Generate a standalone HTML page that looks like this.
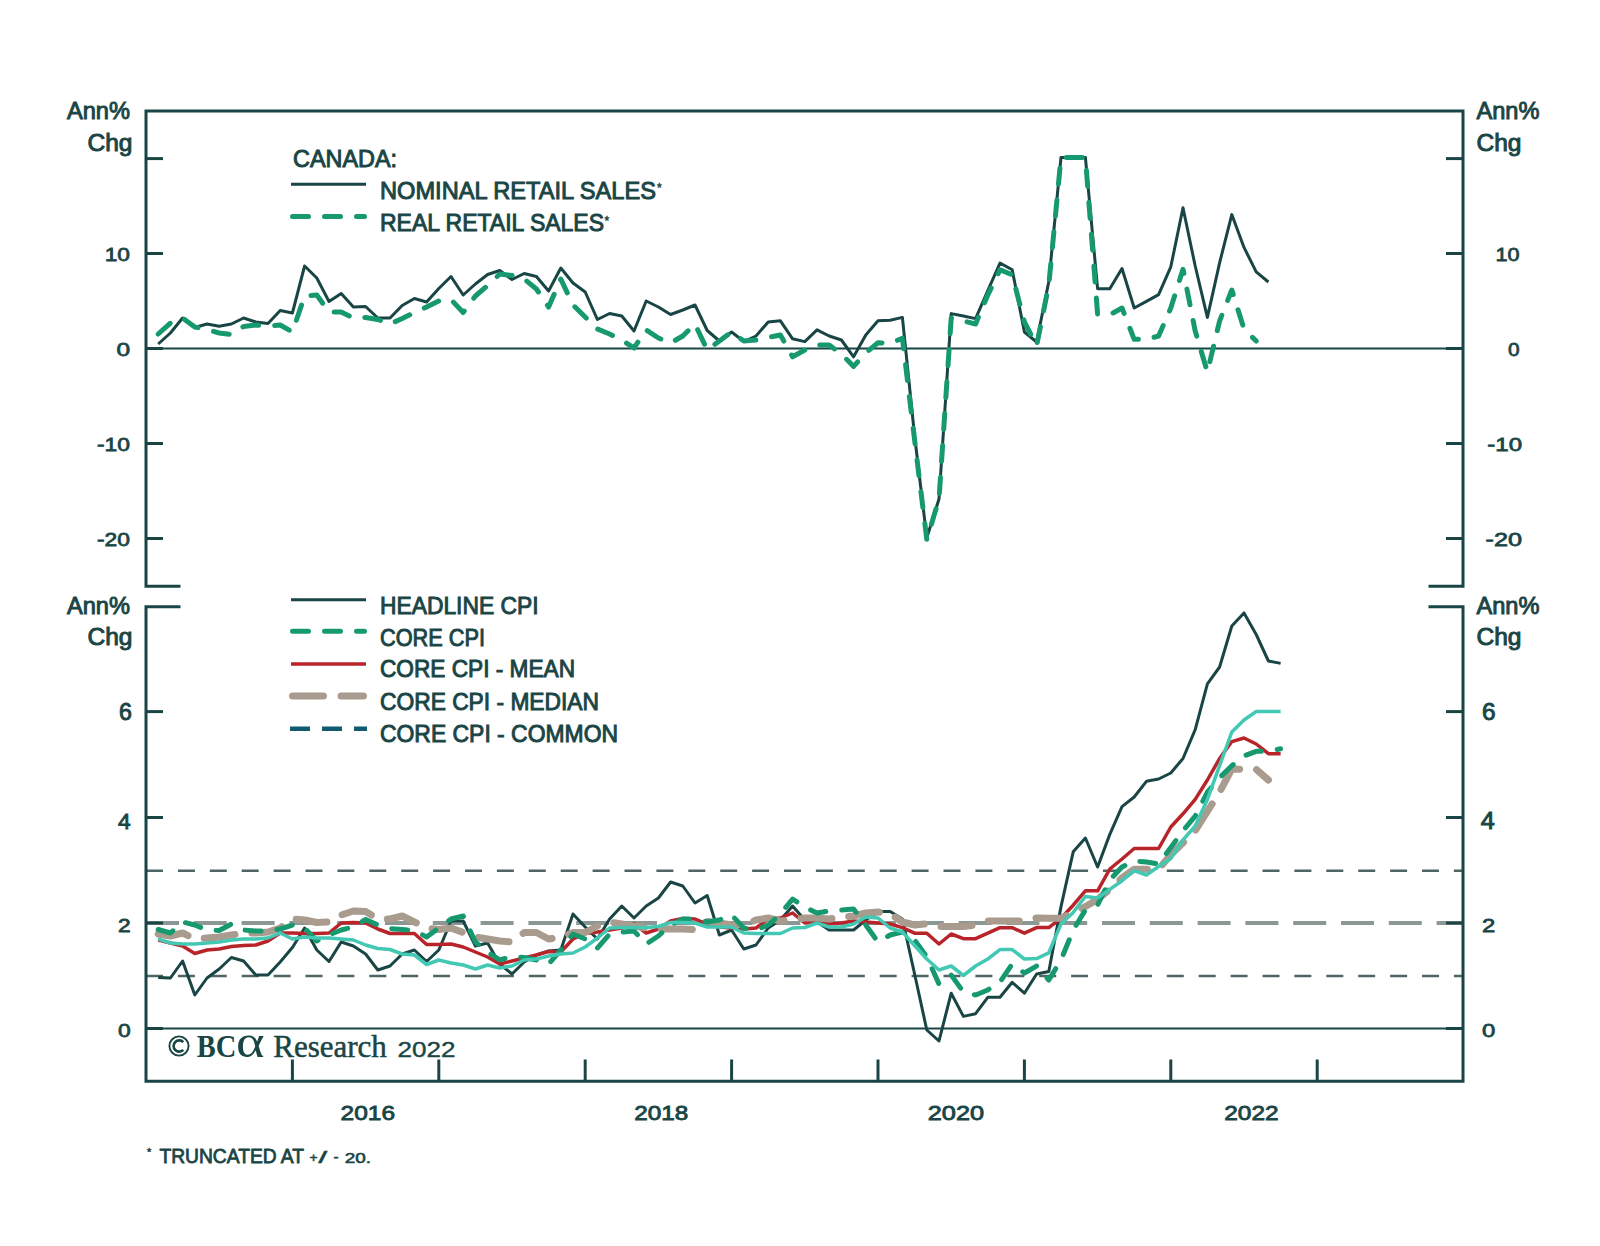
<!DOCTYPE html>
<html><head><meta charset="utf-8"><title>Canada retail sales and CPI</title>
<style>html,body{margin:0;padding:0;background:#fff;width:1600px;height:1246px;overflow:hidden}svg{display:block}</style>
</head><body>
<svg width="1600" height="1246" viewBox="0 0 1600 1246">
<rect width="1600" height="1246" fill="#ffffff"/>
<line x1="146" y1="870.8" x2="1463" y2="870.8" stroke="#4f6565" stroke-width="2.6" stroke-dasharray="17 14.9"/>
<line x1="146" y1="976" x2="1463" y2="976" stroke="#4f6565" stroke-width="2.6" stroke-dasharray="17 14.9"/>
<line x1="146" y1="923" x2="1463" y2="923" stroke="#8b9795" stroke-width="4" stroke-dasharray="33 14.8"/>
<line x1="146" y1="348.5" x2="1463" y2="348.5" stroke="#1a4545" stroke-width="2"/>
<line x1="146" y1="1028.5" x2="1463" y2="1028.5" stroke="#1a4545" stroke-width="2"/>
<polyline points="179,586.2 146,586.2 146,111 1463,111 1463,586.2 1430,586.2" stroke="#1a4545" stroke-width="3" fill="none" stroke-linecap="square" stroke-linejoin="miter"/>
<polyline points="179,606.8 146,606.8 146,1081.2 1463,1081.2 1463,606.8 1430,606.8" stroke="#1a4545" stroke-width="3" fill="none" stroke-linecap="square" stroke-linejoin="miter"/>
<line x1="146" y1="158.6" x2="163" y2="158.6" stroke="#1a4545" stroke-width="3"/>
<line x1="1446" y1="158.6" x2="1463" y2="158.6" stroke="#1a4545" stroke-width="3"/>
<line x1="146" y1="253.5" x2="163" y2="253.5" stroke="#1a4545" stroke-width="3"/>
<line x1="1446" y1="253.5" x2="1463" y2="253.5" stroke="#1a4545" stroke-width="3"/>
<line x1="146" y1="348.5" x2="163" y2="348.5" stroke="#1a4545" stroke-width="3"/>
<line x1="1446" y1="348.5" x2="1463" y2="348.5" stroke="#1a4545" stroke-width="3"/>
<line x1="146" y1="443.5" x2="163" y2="443.5" stroke="#1a4545" stroke-width="3"/>
<line x1="1446" y1="443.5" x2="1463" y2="443.5" stroke="#1a4545" stroke-width="3"/>
<line x1="146" y1="538.5" x2="163" y2="538.5" stroke="#1a4545" stroke-width="3"/>
<line x1="1446" y1="538.5" x2="1463" y2="538.5" stroke="#1a4545" stroke-width="3"/>
<line x1="146" y1="711.6" x2="163" y2="711.6" stroke="#1a4545" stroke-width="3"/>
<line x1="1446" y1="711.6" x2="1463" y2="711.6" stroke="#1a4545" stroke-width="3"/>
<line x1="146" y1="817.5" x2="163" y2="817.5" stroke="#1a4545" stroke-width="3"/>
<line x1="1446" y1="817.5" x2="1463" y2="817.5" stroke="#1a4545" stroke-width="3"/>
<line x1="146" y1="923" x2="163" y2="923" stroke="#1a4545" stroke-width="3"/>
<line x1="1446" y1="923" x2="1463" y2="923" stroke="#1a4545" stroke-width="3"/>
<line x1="146" y1="1028.5" x2="163" y2="1028.5" stroke="#1a4545" stroke-width="3"/>
<line x1="1446" y1="1028.5" x2="1463" y2="1028.5" stroke="#1a4545" stroke-width="3"/>
<line x1="292.4" y1="1059.5" x2="292.4" y2="1081" stroke="#1a4545" stroke-width="3"/>
<line x1="438.8" y1="1059.5" x2="438.8" y2="1081" stroke="#1a4545" stroke-width="3"/>
<line x1="585.2" y1="1059.5" x2="585.2" y2="1081" stroke="#1a4545" stroke-width="3"/>
<line x1="731.6" y1="1059.5" x2="731.6" y2="1081" stroke="#1a4545" stroke-width="3"/>
<line x1="878.0" y1="1059.5" x2="878.0" y2="1081" stroke="#1a4545" stroke-width="3"/>
<line x1="1024.4" y1="1059.5" x2="1024.4" y2="1081" stroke="#1a4545" stroke-width="3"/>
<line x1="1170.8" y1="1059.5" x2="1170.8" y2="1081" stroke="#1a4545" stroke-width="3"/>
<line x1="1317.2" y1="1059.5" x2="1317.2" y2="1081" stroke="#1a4545" stroke-width="3"/>
<polyline points="158.2,344.0 170.4,333.0 182.6,318.0 194.8,327.5 207.0,324.0 219.2,326.2 231.4,324.0 243.6,318.0 255.8,322.0 268.0,323.5 280.2,310.5 292.4,313.0 304.6,266.0 316.8,278.0 329.0,301.5 341.2,293.5 353.4,307.0 365.6,306.5 377.8,318.0 390.0,318.0 402.2,305.5 414.4,298.5 426.6,302.0 438.8,288.5 451.0,276.5 463.2,295.0 475.4,284.0 487.6,274.5 499.8,270.5 512.0,279.5 524.2,273.5 536.4,276.5 548.6,291.0 560.8,268.0 573.0,283.0 585.2,292.0 597.4,319.5 609.6,313.5 621.8,316.0 634.0,331.0 646.2,301.0 658.4,307.0 670.6,314.5 682.8,310.0 695.0,305.0 707.2,330.5 719.4,341.0 731.6,332.0 743.8,341.5 756.0,336.0 768.2,322.0 780.4,320.8 792.6,338.8 804.8,341.6 817.0,329.8 829.2,336.0 841.4,340.0 853.6,356.8 865.8,334.9 878.0,320.8 890.2,320.2 902.4,317.4 914.6,436.0 926.8,537.7 939.0,499.0 951.2,313.6 963.4,316.0 975.6,318.6 987.8,290.7 1000.0,263.0 1012.2,269.8 1024.4,332.0 1036.6,342.0 1048.8,281.6 1061.0,157.5 1073.2,157.5 1085.4,157.5 1097.6,288.7 1109.8,288.7 1122.0,268.5 1134.2,308.0 1146.4,301.4 1158.6,294.6 1170.8,266.8 1183.0,207.8 1195.2,266.0 1207.4,317.4 1219.6,262.8 1231.8,214.6 1244.0,247.4 1256.2,271.9 1268.4,282.0" stroke="#1a4545" stroke-width="3" fill="none" stroke-linejoin="round"/>
<polyline points="158.2,334.0 170.4,323.0 182.6,318.0 194.8,327.0 207.0,329.5 219.2,333.0 231.4,334.5 243.6,326.5 255.8,325.0 268.0,326.0 280.2,325.0 292.4,332.0 304.6,296.0 316.8,295.0 329.0,312.0 341.2,312.0 353.4,318.0 365.6,317.5 377.8,319.5 390.0,324.0 402.2,318.5 414.4,312.5 426.6,307.0 438.8,301.0 451.0,299.5 463.2,312.5 475.4,296.0 487.6,285.5 499.8,274.0 512.0,275.5 524.2,279.0 536.4,289.0 548.6,307.0 560.8,279.0 573.0,305.0 585.2,317.0 597.4,329.0 609.6,334.0 621.8,340.0 634.0,348.0 646.2,330.0 658.4,338.0 670.6,343.0 682.8,336.0 695.0,324.0 707.2,350.0 719.4,341.0 731.6,332.0 743.8,341.0 756.0,340.0 768.2,337.5 780.4,335.0 792.6,356.8 804.8,350.0 817.0,345.0 829.2,345.0 841.4,354.0 853.6,366.4 865.8,352.9 878.0,342.8 890.2,343.3 902.4,338.2 914.6,440.0 926.8,539.4 939.0,499.0 951.2,318.0 963.4,321.0 975.6,324.0 987.8,295.0 1000.0,269.8 1012.2,274.8 1024.4,322.0 1036.6,345.6 1048.8,285.0 1061.0,157.5 1073.2,157.5 1085.4,157.5 1097.6,314.0 1109.8,314.8 1122.0,308.0 1134.2,339.3 1146.4,339.3 1158.6,336.0 1170.8,308.0 1183.0,269.3 1195.2,331.0 1207.4,372.0 1219.6,321.0 1231.8,290.0 1244.0,329.0 1256.2,341.0" stroke="#16996f" stroke-width="5" stroke-dasharray="16 16" stroke-linecap="round" fill="none" stroke-linejoin="round"/>
<polyline points="158.2,977.5 170.4,978.0 182.6,961.0 194.8,995.0 207.0,978.0 219.2,969.0 231.4,957.5 243.6,961.0 255.8,975.0 268.0,975.0 280.2,962.0 292.4,947.5 304.6,928.0 316.8,950.0 329.0,961.5 341.2,942.0 353.4,946.0 365.6,954.0 377.8,970.0 390.0,966.0 402.2,954.0 414.4,950.0 426.6,961.5 438.8,950.0 451.0,921.0 463.2,921.0 475.4,946.0 487.6,943.0 499.8,964.0 512.0,974.0 524.2,962.0 536.4,955.0 548.6,951.0 560.8,950.0 573.0,914.0 585.2,927.0 597.4,939.0 609.6,919.0 621.8,906.0 634.0,918.0 646.2,906.0 658.4,898.0 670.6,882.0 682.8,886.0 695.0,903.0 707.2,895.5 719.4,935.0 731.6,930.0 743.8,949.0 756.0,945.0 768.2,928.0 780.4,920.0 792.6,906.0 804.8,920.0 817.0,922.0 829.2,930.0 841.4,930.0 853.6,930.0 865.8,920.0 878.0,911.5 890.2,911.5 902.4,919.0 914.6,974.0 926.8,1030.0 939.0,1041.0 951.2,993.2 963.4,1016.4 975.6,1013.7 987.8,997.3 1000.0,997.3 1012.2,982.3 1024.4,993.2 1036.6,974.0 1048.8,971.5 1061.0,906.6 1073.2,851.8 1085.4,838.0 1097.6,867.0 1109.8,834.4 1122.0,806.6 1134.2,797.0 1146.4,781.3 1158.6,779.0 1170.8,773.0 1183.0,758.5 1195.2,729.6 1207.4,683.9 1219.6,667.0 1231.8,626.0 1244.0,612.9 1256.2,634.5 1268.4,661.0 1280.6,663.4" stroke="#1a4545" stroke-width="3" fill="none" stroke-linejoin="round"/>
<polyline points="158.2,940.0 170.4,943.0 182.6,946.0 194.8,953.5 207.0,950.0 219.2,949.0 231.4,946.5 243.6,945.5 255.8,945.0 268.0,941.0 280.2,933.0 292.4,933.0 304.6,933.5 316.8,933.5 329.0,933.0 341.2,923.0 353.4,922.5 365.6,923.0 377.8,929.0 390.0,933.5 402.2,933.5 414.4,933.5 426.6,944.5 438.8,944.5 451.0,944.0 463.2,947.0 475.4,952.0 487.6,957.0 499.8,964.0 512.0,961.0 524.2,958.0 536.4,955.0 548.6,951.5 560.8,952.0 573.0,939.0 585.2,933.5 597.4,932.0 609.6,930.0 621.8,928.0 634.0,923.5 646.2,933.0 658.4,929.0 670.6,921.0 682.8,918.5 695.0,919.0 707.2,924.0 719.4,927.0 731.6,928.0 743.8,929.0 756.0,928.0 768.2,919.0 780.4,918.0 792.6,913.0 804.8,923.0 817.0,922.0 829.2,924.0 841.4,923.0 853.6,921.0 865.8,922.0 878.0,923.0 890.2,924.0 902.4,927.7 914.6,933.2 926.8,933.2 939.0,944.0 951.2,934.0 963.4,938.7 975.6,938.7 987.8,933.2 1000.0,927.7 1012.2,927.7 1024.4,933.2 1036.6,927.6 1048.8,927.6 1061.0,918.2 1073.2,905.2 1085.4,890.8 1097.6,890.8 1109.8,869.0 1122.0,859.0 1134.2,848.5 1146.4,848.5 1158.6,848.5 1170.8,827.0 1183.0,813.8 1195.2,799.4 1207.4,780.0 1219.6,758.5 1231.8,741.6 1244.0,738.0 1256.2,744.0 1268.4,753.7 1280.6,753.7" stroke="#b8242a" stroke-width="3.5" fill="none" stroke-linejoin="round"/>
<polyline points="158.2,934.0 170.4,936.0 182.6,933.0 194.8,939.0 207.0,938.0 219.2,937.0 231.4,935.0 243.6,933.0 255.8,933.0 268.0,932.0 280.2,928.0 292.4,919.0 304.6,920.0 316.8,922.5 329.0,922.0 341.2,915.0 353.4,911.0 365.6,911.5 377.8,919.0 390.0,919.0 402.2,916.0 414.4,922.0 426.6,928.0 438.8,929.5 451.0,928.0 463.2,932.5 475.4,937.0 487.6,939.0 499.8,941.0 512.0,942.0 524.2,932.5 536.4,932.5 548.6,939.0 560.8,937.0 573.0,932.5 585.2,932.5 597.4,926.0 609.6,922.0 621.8,924.0 634.0,926.0 646.2,928.0 658.4,929.0 670.6,929.0 682.8,929.0 695.0,929.5 707.2,921.5 719.4,923.0 731.6,925.0 743.8,925.0 756.0,920.0 768.2,918.0 780.4,921.0 792.6,920.0 804.8,918.0 817.0,918.0 829.2,919.0 841.4,917.0 853.6,916.0 865.8,913.0 878.0,912.0 890.2,914.0 902.4,922.0 914.6,925.0 926.8,923.7 939.0,926.4 951.2,926.4 963.4,926.4 975.6,925.0 987.8,921.0 1000.0,921.0 1012.2,921.0 1024.4,921.0 1036.6,918.0 1048.8,918.2 1061.0,918.2 1073.2,912.4 1085.4,906.6 1097.6,899.4 1109.8,889.3 1122.0,877.8 1134.2,869.2 1146.4,869.2 1158.6,869.2 1170.8,854.7 1183.0,842.7 1195.2,830.7 1207.4,811.4 1219.6,792.2 1231.8,769.0 1244.0,769.3 1256.2,769.3 1268.4,780.0" stroke="#a99c8e" stroke-width="7" stroke-dasharray="31 17" stroke-linecap="round" fill="none" stroke-linejoin="round"/>
<polyline points="158.2,929.5 170.4,933.0 182.6,922.0 194.8,925.0 207.0,930.0 219.2,930.5 231.4,924.0 243.6,930.0 255.8,931.0 268.0,931.0 280.2,929.0 292.4,925.0 304.6,928.0 316.8,941.0 329.0,935.0 341.2,930.0 353.4,927.0 365.6,919.5 377.8,925.0 390.0,928.5 402.2,929.5 414.4,930.5 426.6,937.0 438.8,928.0 451.0,919.0 463.2,916.0 475.4,942.0 487.6,952.0 499.8,960.0 512.0,956.5 524.2,957.5 536.4,960.0 548.6,964.0 560.8,950.0 573.0,934.0 585.2,939.0 597.4,948.0 609.6,934.0 621.8,932.0 634.0,931.0 646.2,944.0 658.4,936.0 670.6,925.0 682.8,919.0 695.0,919.0 707.2,922.0 719.4,920.0 731.6,915.0 743.8,928.0 756.0,930.0 768.2,925.0 780.4,914.0 792.6,899.0 804.8,907.0 817.0,913.0 829.2,911.0 841.4,910.0 853.6,909.0 865.8,925.0 878.0,942.0 890.2,935.0 902.4,932.0 914.6,940.0 926.8,957.0 939.0,984.0 951.2,975.0 963.4,992.0 975.6,995.0 987.8,990.0 1000.0,982.0 1012.2,964.0 1024.4,973.0 1036.6,966.0 1048.8,980.0 1061.0,960.0 1073.2,930.0 1085.4,910.0 1097.6,905.0 1109.8,880.0 1122.0,867.0 1134.2,861.0 1146.4,862.0 1158.6,864.0 1170.8,847.5 1183.0,830.7 1195.2,816.2 1207.4,792.2 1219.6,777.7 1231.8,765.7 1244.0,756.0 1256.2,751.3 1268.4,751.3 1280.6,748.8" stroke="#16996f" stroke-width="5" stroke-dasharray="16 16" stroke-linecap="round" fill="none" stroke-linejoin="round"/>
<polyline points="158.2,939.0 170.4,943.0 182.6,944.0 194.8,944.0 207.0,943.0 219.2,942.0 231.4,940.0 243.6,939.0 255.8,939.0 268.0,938.0 280.2,933.0 292.4,939.0 304.6,937.0 316.8,938.0 329.0,938.0 341.2,939.0 353.4,940.0 365.6,945.0 377.8,948.5 390.0,949.5 402.2,954.0 414.4,955.0 426.6,964.5 438.8,960.0 451.0,963.0 463.2,965.0 475.4,969.0 487.6,965.0 499.8,968.0 512.0,966.0 524.2,960.0 536.4,959.0 548.6,956.0 560.8,954.0 573.0,953.0 585.2,947.0 597.4,938.0 609.6,928.0 621.8,927.5 634.0,927.5 646.2,927.5 658.4,926.5 670.6,922.5 682.8,922.5 695.0,923.0 707.2,927.0 719.4,927.0 731.6,927.0 743.8,933.0 756.0,933.5 768.2,933.5 780.4,933.5 792.6,928.0 804.8,927.5 817.0,923.0 829.2,927.0 841.4,927.0 853.6,924.0 865.8,917.0 878.0,918.0 890.2,928.0 902.4,932.0 914.6,945.5 926.8,959.0 939.0,970.0 951.2,966.0 963.4,975.5 975.6,966.0 987.8,959.0 1000.0,949.6 1012.2,949.6 1024.4,959.0 1036.6,958.6 1048.8,952.8 1061.0,924.0 1073.2,912.4 1085.4,896.5 1097.6,898.0 1109.8,889.3 1122.0,880.7 1134.2,870.5 1146.4,875.0 1158.6,866.5 1170.8,858.5 1183.0,840.0 1195.2,825.9 1207.4,799.4 1219.6,765.7 1231.8,732.0 1244.0,720.0 1256.2,711.5 1268.4,711.5 1280.6,711.5" stroke="#43c8b4" stroke-width="3.5" fill="none" stroke-linejoin="round"/>
<line x1="291" y1="184.3" x2="366" y2="184.3" stroke="#1a4545" stroke-width="3"/>
<line x1="292.5" y1="216.6" x2="364.5" y2="216.6" stroke="#16996f" stroke-width="5" stroke-dasharray="16 16" stroke-linecap="round"/>
<line x1="291" y1="599.7" x2="366" y2="599.7" stroke="#1a4545" stroke-width="3"/>
<line x1="292.5" y1="631.3" x2="364.5" y2="631.3" stroke="#16996f" stroke-width="5" stroke-dasharray="16 16" stroke-linecap="round"/>
<line x1="291" y1="663.9" x2="366" y2="663.9" stroke="#b8242a" stroke-width="3.5"/>
<line x1="292.5" y1="696" x2="363.5" y2="696" stroke="#a99c8e" stroke-width="7" stroke-dasharray="31 17.5" stroke-linecap="round"/>
<line x1="290" y1="728.7" x2="367" y2="728.7" stroke="#115a72" stroke-width="4.5" stroke-dasharray="20 12"/>
<text x="293" y="166.7" font-size="23.5" font-weight="normal" font-family='"Liberation Sans", sans-serif' fill="#1a4545" text-anchor="start" textLength="104" lengthAdjust="spacingAndGlyphs" stroke="#1a4545" stroke-width="0.94" >CANADA:</text>
<text x="380" y="198.5" font-size="23.5" font-weight="normal" font-family='"Liberation Sans", sans-serif' fill="#1a4545" text-anchor="start" textLength="276" lengthAdjust="spacingAndGlyphs" stroke="#1a4545" stroke-width="0.94" >NOMINAL RETAIL SALES</text>
<text x="657" y="192" font-size="12" font-weight="normal" font-family='"Liberation Sans", sans-serif' fill="#1a4545" text-anchor="start" stroke="#1a4545" stroke-width="0.48" >*</text>
<text x="380" y="231" font-size="23.5" font-weight="normal" font-family='"Liberation Sans", sans-serif' fill="#1a4545" text-anchor="start" textLength="224" lengthAdjust="spacingAndGlyphs" stroke="#1a4545" stroke-width="0.94" >REAL RETAIL SALES</text>
<text x="604.5" y="224.5" font-size="12" font-weight="normal" font-family='"Liberation Sans", sans-serif' fill="#1a4545" text-anchor="start" stroke="#1a4545" stroke-width="0.48" >*</text>
<text x="380" y="614" font-size="23.5" font-weight="normal" font-family='"Liberation Sans", sans-serif' fill="#1a4545" text-anchor="start" textLength="158.5" lengthAdjust="spacingAndGlyphs" stroke="#1a4545" stroke-width="0.94" >HEADLINE CPI</text>
<text x="380" y="645.6" font-size="23.5" font-weight="normal" font-family='"Liberation Sans", sans-serif' fill="#1a4545" text-anchor="start" textLength="105" lengthAdjust="spacingAndGlyphs" stroke="#1a4545" stroke-width="0.94" >CORE CPI</text>
<text x="380" y="677" font-size="23.5" font-weight="normal" font-family='"Liberation Sans", sans-serif' fill="#1a4545" text-anchor="start" textLength="195" lengthAdjust="spacingAndGlyphs" stroke="#1a4545" stroke-width="0.94" >CORE CPI - MEAN</text>
<text x="380" y="709.7" font-size="23.5" font-weight="normal" font-family='"Liberation Sans", sans-serif' fill="#1a4545" text-anchor="start" textLength="219" lengthAdjust="spacingAndGlyphs" stroke="#1a4545" stroke-width="0.94" >CORE CPI - MEDIAN</text>
<text x="380" y="741.8" font-size="23.5" font-weight="normal" font-family='"Liberation Sans", sans-serif' fill="#1a4545" text-anchor="start" textLength="238" lengthAdjust="spacingAndGlyphs" stroke="#1a4545" stroke-width="0.94" >CORE CPI - COMMON</text>
<text x="130" y="118.9" font-size="23.5" font-weight="normal" font-family='"Liberation Sans", sans-serif' fill="#1a4545" text-anchor="end" textLength="63" lengthAdjust="spacingAndGlyphs" stroke="#1a4545" stroke-width="0.94" >Ann%</text>
<text x="132.5" y="151" font-size="23.5" font-weight="normal" font-family='"Liberation Sans", sans-serif' fill="#1a4545" text-anchor="end" textLength="45" lengthAdjust="spacingAndGlyphs" stroke="#1a4545" stroke-width="0.94" >Chg</text>
<text x="1476.5" y="118.9" font-size="23.5" font-weight="normal" font-family='"Liberation Sans", sans-serif' fill="#1a4545" text-anchor="start" textLength="63" lengthAdjust="spacingAndGlyphs" stroke="#1a4545" stroke-width="0.94" >Ann%</text>
<text x="1476.5" y="151" font-size="23.5" font-weight="normal" font-family='"Liberation Sans", sans-serif' fill="#1a4545" text-anchor="start" textLength="45" lengthAdjust="spacingAndGlyphs" stroke="#1a4545" stroke-width="0.94" >Chg</text>
<text x="130" y="614.2" font-size="23.5" font-weight="normal" font-family='"Liberation Sans", sans-serif' fill="#1a4545" text-anchor="end" textLength="63" lengthAdjust="spacingAndGlyphs" stroke="#1a4545" stroke-width="0.94" >Ann%</text>
<text x="132.5" y="645.2" font-size="23.5" font-weight="normal" font-family='"Liberation Sans", sans-serif' fill="#1a4545" text-anchor="end" textLength="45" lengthAdjust="spacingAndGlyphs" stroke="#1a4545" stroke-width="0.94" >Chg</text>
<text x="1476.5" y="614.2" font-size="23.5" font-weight="normal" font-family='"Liberation Sans", sans-serif' fill="#1a4545" text-anchor="start" textLength="63" lengthAdjust="spacingAndGlyphs" stroke="#1a4545" stroke-width="0.94" >Ann%</text>
<text x="1476.5" y="645.2" font-size="23.5" font-weight="normal" font-family='"Liberation Sans", sans-serif' fill="#1a4545" text-anchor="start" textLength="45" lengthAdjust="spacingAndGlyphs" stroke="#1a4545" stroke-width="0.94" >Chg</text>
<text x="130" y="261" font-size="19" font-weight="normal" font-family='"Liberation Sans", sans-serif' fill="#1a4545" text-anchor="end" textLength="25.3" lengthAdjust="spacingAndGlyphs" stroke="#1a4545" stroke-width="0.76" >10</text>
<text x="1519.5" y="261" font-size="19" font-weight="normal" font-family='"Liberation Sans", sans-serif' fill="#1a4545" text-anchor="end" textLength="24.1" lengthAdjust="spacingAndGlyphs" stroke="#1a4545" stroke-width="0.76" >10</text>
<text x="130" y="356.2" font-size="19" font-weight="normal" font-family='"Liberation Sans", sans-serif' fill="#1a4545" text-anchor="end" textLength="13.6" lengthAdjust="spacingAndGlyphs" stroke="#1a4545" stroke-width="0.76" >0</text>
<text x="1519.5" y="356.2" font-size="19" font-weight="normal" font-family='"Liberation Sans", sans-serif' fill="#1a4545" text-anchor="end" textLength="11.6" lengthAdjust="spacingAndGlyphs" stroke="#1a4545" stroke-width="0.76" >0</text>
<text x="130" y="451.3" font-size="19" font-weight="normal" font-family='"Liberation Sans", sans-serif' fill="#1a4545" text-anchor="end" textLength="33" lengthAdjust="spacingAndGlyphs" stroke="#1a4545" stroke-width="0.76" >-10</text>
<text x="1522" y="451.3" font-size="19" font-weight="normal" font-family='"Liberation Sans", sans-serif' fill="#1a4545" text-anchor="end" textLength="34.7" lengthAdjust="spacingAndGlyphs" stroke="#1a4545" stroke-width="0.76" >-10</text>
<text x="130" y="546.4" font-size="19" font-weight="normal" font-family='"Liberation Sans", sans-serif' fill="#1a4545" text-anchor="end" textLength="33" lengthAdjust="spacingAndGlyphs" stroke="#1a4545" stroke-width="0.76" >-20</text>
<text x="1522" y="546.4" font-size="19" font-weight="normal" font-family='"Liberation Sans", sans-serif' fill="#1a4545" text-anchor="end" textLength="36.5" lengthAdjust="spacingAndGlyphs" stroke="#1a4545" stroke-width="0.76" >-20</text>
<text x="118" y="932" font-size="19" font-weight="normal" font-family='"Liberation Sans", sans-serif' fill="#1a4545" text-anchor="start" textLength="12.7" lengthAdjust="spacingAndGlyphs" stroke="#1a4545" stroke-width="0.76" >2</text>
<text x="1482" y="931.8" font-size="19" font-weight="normal" font-family='"Liberation Sans", sans-serif' fill="#1a4545" text-anchor="start" textLength="13.3" lengthAdjust="spacingAndGlyphs" stroke="#1a4545" stroke-width="0.76" >2</text>
<text x="118" y="1037" font-size="19" font-weight="normal" font-family='"Liberation Sans", sans-serif' fill="#1a4545" text-anchor="start" textLength="12.7" lengthAdjust="spacingAndGlyphs" stroke="#1a4545" stroke-width="0.76" >0</text>
<text x="1482" y="1036.8" font-size="19" font-weight="normal" font-family='"Liberation Sans", sans-serif' fill="#1a4545" text-anchor="start" textLength="13.3" lengthAdjust="spacingAndGlyphs" stroke="#1a4545" stroke-width="0.76" >0</text>
<text x="119" y="720" font-size="24.5" font-weight="normal" font-family='"Liberation Sans", sans-serif' fill="#1a4545" text-anchor="start" textLength="12.9" lengthAdjust="spacingAndGlyphs" stroke="#1a4545" stroke-width="0.98" >6</text>
<text x="1482" y="719.7" font-size="23" font-weight="normal" font-family='"Liberation Sans", sans-serif' fill="#1a4545" text-anchor="start" textLength="13.6" lengthAdjust="spacingAndGlyphs" stroke="#1a4545" stroke-width="0.92" >6</text>
<text x="118" y="829.3" font-size="21.5" font-weight="normal" font-family='"Liberation Sans", sans-serif' fill="#1a4545" text-anchor="start" textLength="12.6" lengthAdjust="spacingAndGlyphs" stroke="#1a4545" stroke-width="0.86" >4</text>
<text x="1480.7" y="828.6" font-size="24.5" font-weight="normal" font-family='"Liberation Sans", sans-serif' fill="#1a4545" text-anchor="start" textLength="14" lengthAdjust="spacingAndGlyphs" stroke="#1a4545" stroke-width="0.98" >4</text>
<text x="340.6" y="1119.6" font-size="21" font-weight="normal" font-family='"Liberation Sans", sans-serif' fill="#1a4545" text-anchor="start" textLength="54.4" lengthAdjust="spacingAndGlyphs" stroke="#1a4545" stroke-width="0.84" >2016</text>
<text x="634.2" y="1119.6" font-size="21" font-weight="normal" font-family='"Liberation Sans", sans-serif' fill="#1a4545" text-anchor="start" textLength="54.0" lengthAdjust="spacingAndGlyphs" stroke="#1a4545" stroke-width="0.84" >2018</text>
<text x="927.8" y="1119.6" font-size="21" font-weight="normal" font-family='"Liberation Sans", sans-serif' fill="#1a4545" text-anchor="start" textLength="56.2" lengthAdjust="spacingAndGlyphs" stroke="#1a4545" stroke-width="0.84" >2020</text>
<text x="1224.3" y="1119.6" font-size="21" font-weight="normal" font-family='"Liberation Sans", sans-serif' fill="#1a4545" text-anchor="start" textLength="54.3" lengthAdjust="spacingAndGlyphs" stroke="#1a4545" stroke-width="0.84" >2022</text>
<circle cx="179" cy="1046" r="9.6" fill="none" stroke="#1a4545" stroke-width="1.9"/>
<path d="M183.3,1042.2 A5.6,5.6 0 1 0 183.3,1049.8" fill="none" stroke="#1a4545" stroke-width="2.6"/>
<text x="196.7" y="1056.8" font-size="31" font-weight="bold" font-family='"Liberation Serif", serif' fill="#1a4545" text-anchor="start" textLength="39.5" lengthAdjust="spacingAndGlyphs" >BC</text>
<text x="0" y="0" font-size="40" font-family='"Liberation Serif", serif' fill="#1a4545" textLength="28.5" lengthAdjust="spacingAndGlyphs" transform="translate(236,1056.8) scale(1,1.15)">α</text>
<text x="273.2" y="1057" font-size="31" font-weight="normal" font-family='"Liberation Serif", serif' fill="#1a4545" text-anchor="start" textLength="113.7" lengthAdjust="spacingAndGlyphs" stroke="#1a4545" stroke-width="0.5">Research</text>
<text x="397.5" y="1057" font-size="22" font-weight="normal" font-family='"Liberation Sans", sans-serif' fill="#1a4545" text-anchor="start" textLength="58" lengthAdjust="spacingAndGlyphs" stroke="#1a4545" stroke-width="0.4">2022</text>
<text x="147" y="1156" font-size="11" font-weight="normal" font-family='"Liberation Sans", sans-serif' fill="#1a4545" text-anchor="start" stroke="#1a4545" stroke-width="0.44" >*</text>
<text x="159.5" y="1163.4" font-size="19.5" font-weight="normal" font-family='"Liberation Sans", sans-serif' fill="#1a4545" text-anchor="start" textLength="144.5" lengthAdjust="spacingAndGlyphs" stroke="#1a4545" stroke-width="0.78" >TRUNCATED AT</text>
<text x="309.5" y="1162" font-size="13" font-weight="normal" font-family='"Liberation Sans", sans-serif' fill="#1a4545" text-anchor="start" textLength="8" lengthAdjust="spacingAndGlyphs" stroke="#1a4545" stroke-width="0.52" >+</text>
<text x="318.5" y="1163.4" font-size="16" font-weight="normal" font-family='"Liberation Sans", sans-serif' fill="#1a4545" text-anchor="start" textLength="8.5" lengthAdjust="spacingAndGlyphs" stroke="#1a4545" stroke-width="0.6">/</text>
<text x="333.5" y="1162" font-size="14" font-weight="normal" font-family='"Liberation Sans", sans-serif' fill="#1a4545" text-anchor="start" textLength="5" lengthAdjust="spacingAndGlyphs" stroke="#1a4545" stroke-width="0.56" >-</text>
<text x="344.7" y="1163.4" font-size="14" font-weight="normal" font-family='"Liberation Sans", sans-serif' fill="#1a4545" text-anchor="start" textLength="26.3" lengthAdjust="spacingAndGlyphs" stroke="#1a4545" stroke-width="0.56" >20.</text>
</svg>
</body></html>
